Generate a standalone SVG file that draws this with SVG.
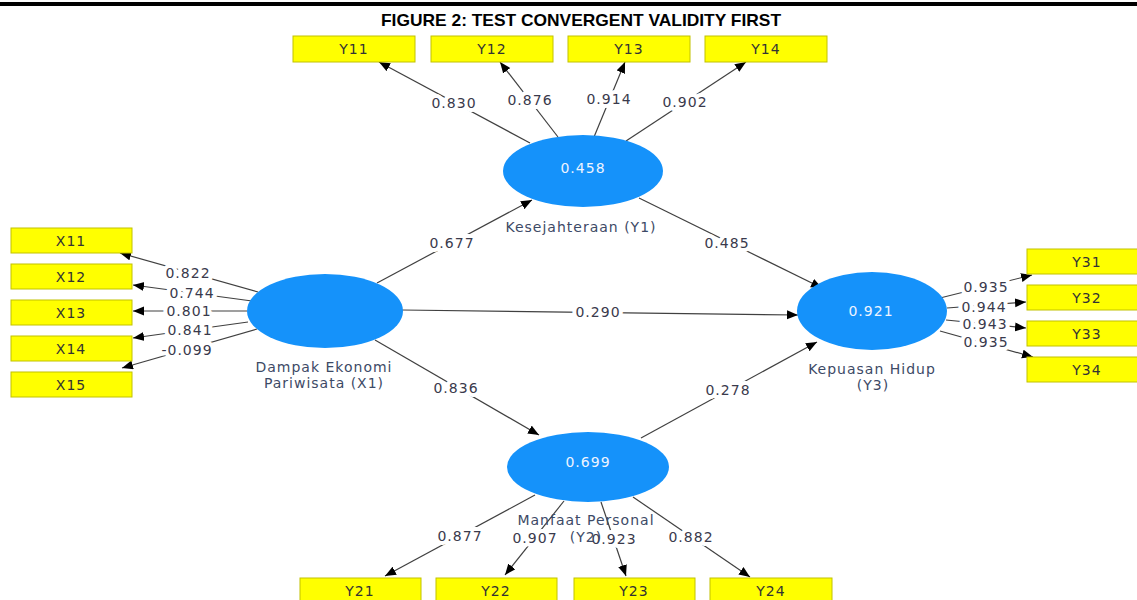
<svg xmlns="http://www.w3.org/2000/svg" width="1137" height="600" viewBox="0 0 1137 600">
<defs>
<marker id="ah" markerUnits="userSpaceOnUse" markerWidth="12" markerHeight="10" refX="11" refY="4.5" orient="auto">
<path d="M0,0 L11,4.5 L0,9 z" fill="#000"/>
</marker>
<style>
.ind rect{fill:#ffff00;stroke:#c2c200;stroke-width:1}
.ind text{font-family:"DejaVu Sans",sans-serif;font-size:14px;fill:#333;text-anchor:middle;letter-spacing:1px}
.lat ellipse{fill:#1592fa}
.lat .v{font-family:"DejaVu Sans",sans-serif;font-size:14px;fill:#eef4ff;text-anchor:middle;letter-spacing:1px}
.lat .n{font-family:"DejaVu Sans",sans-serif;font-size:14px;fill:#3d4a66;text-anchor:middle;letter-spacing:1px}
#connectors line{stroke:#404040;stroke-width:1.2;marker-end:url(#ah)}
.lbl{font-family:"DejaVu Sans",sans-serif;font-size:14px;fill:#3a3a4c;text-anchor:middle;letter-spacing:1px;stroke:#fff;stroke-width:8px;stroke-linejoin:round;paint-order:stroke}
.title{font-family:"Liberation Sans",Arial,sans-serif;font-weight:bold;font-size:17px;fill:#000}
</style>
</defs>
<rect width="1137" height="600" fill="#fff"/>
<rect x="0" y="2" width="1137" height="4" fill="#000"/>
<text class="title" x="381" y="26" textLength="400" lengthAdjust="spacingAndGlyphs">FIGURE 2: TEST CONVERGENT VALIDITY FIRST</text>

<g id="connectors">
<line x1="530" y1="143" x2="379" y2="62"/>
<line x1="558" y1="137" x2="500" y2="62"/>
<line x1="594" y1="137" x2="625" y2="62"/>
<line x1="626" y1="141" x2="746" y2="62"/>
<line x1="258" y1="292" x2="120" y2="253"/>
<line x1="252" y1="301" x2="133" y2="285"/>
<line x1="247" y1="311" x2="133" y2="311"/>
<line x1="248" y1="322" x2="133" y2="338"/>
<line x1="257" y1="329" x2="122" y2="368"/>
<line x1="377" y1="283" x2="532" y2="200"/>
<line x1="639" y1="198" x2="822" y2="288"/>
<line x1="402" y1="310" x2="798" y2="315"/>
<line x1="375" y1="340" x2="539" y2="435"/>
<line x1="641" y1="438" x2="817" y2="342"/>
<line x1="940" y1="298" x2="1032" y2="275"/>
<line x1="947" y1="308" x2="1026" y2="302"/>
<line x1="946" y1="320" x2="1026" y2="328"/>
<line x1="940" y1="331" x2="1033" y2="357"/>
<line x1="535" y1="495" x2="385" y2="576"/>
<line x1="564" y1="501" x2="505" y2="575"/>
<line x1="601" y1="502" x2="626" y2="576"/>
<line x1="633" y1="497" x2="750" y2="577"/>
<g id="connector-labels">
<text class="lbl" x="454" y="108">0.830</text>
<text class="lbl" x="530" y="105">0.876</text>
<text class="lbl" x="609" y="104">0.914</text>
<text class="lbl" x="685" y="107">0.902</text>
<text class="lbl" x="188" y="278">0.822</text>
<text class="lbl" x="192" y="298">0.744</text>
<text class="lbl" x="189" y="316">0.801</text>
<text class="lbl" x="190" y="335">0.841</text>
<text class="lbl" x="187" y="355">-0.099</text>
<text class="lbl" x="452" y="248">0.677</text>
<text class="lbl" x="727" y="248">0.485</text>
<text class="lbl" x="598" y="317">0.290</text>
<text class="lbl" x="456" y="393">0.836</text>
<text class="lbl" x="728" y="395">0.278</text>
<text class="lbl" x="986" y="292">0.935</text>
<text class="lbl" x="984" y="312">0.944</text>
<text class="lbl" x="985" y="329">0.943</text>
<text class="lbl" x="986" y="347">0.935</text>
<text class="lbl" x="460" y="541">0.877</text>
<text class="lbl" x="535" y="543">0.907</text>
<text class="lbl" x="614" y="544">0.923</text>
<text class="lbl" x="691" y="542">0.882</text>
</g>
</g>

<g id="Y11" class="ind"><rect x="293" y="36" width="122" height="26"/><text x="354" y="54">Y11</text></g>
<g id="Y12" class="ind"><rect x="431" y="36" width="122" height="26"/><text x="492" y="54">Y12</text></g>
<g id="Y13" class="ind"><rect x="568" y="36" width="122" height="26"/><text x="629" y="54">Y13</text></g>
<g id="Y14" class="ind"><rect x="705" y="36" width="122" height="26"/><text x="766" y="54">Y14</text></g>

<g id="X11" class="ind"><rect x="11" y="228" width="121" height="25"/><text x="71" y="246">X11</text></g>
<g id="X12" class="ind"><rect x="11" y="264" width="121" height="25"/><text x="71" y="282">X12</text></g>
<g id="X13" class="ind"><rect x="11" y="300" width="121" height="25"/><text x="71" y="318">X13</text></g>
<g id="X14" class="ind"><rect x="11" y="336" width="121" height="25"/><text x="71" y="354">X14</text></g>
<g id="X15" class="ind"><rect x="11" y="372" width="121" height="25"/><text x="71" y="390">X15</text></g>

<g id="Y31" class="ind"><rect x="1027" y="249" width="122" height="25"/><text x="1087" y="267">Y31</text></g>
<g id="Y32" class="ind"><rect x="1027" y="285" width="122" height="25"/><text x="1087" y="303">Y32</text></g>
<g id="Y33" class="ind"><rect x="1027" y="321" width="122" height="25"/><text x="1087" y="339">Y33</text></g>
<g id="Y34" class="ind"><rect x="1027" y="357" width="122" height="25"/><text x="1087" y="375">Y34</text></g>

<g id="Y21" class="ind"><rect x="300" y="578" width="121" height="25"/><text x="360" y="596">Y21</text></g>
<g id="Y22" class="ind"><rect x="436" y="578" width="121" height="25"/><text x="496" y="596">Y22</text></g>
<g id="Y23" class="ind"><rect x="574" y="578" width="121" height="25"/><text x="634" y="596">Y23</text></g>
<g id="Y24" class="ind"><rect x="710" y="578" width="122" height="25"/><text x="771" y="596">Y24</text></g>

<g id="X1" class="lat">
<ellipse cx="325" cy="311" rx="78" ry="37"/>
<text class="n" x="324" y="372">Dampak Ekonomi</text>
<text class="n" x="324" y="388">Pariwisata (X1)</text>
</g>
<g id="Y1" class="lat">
<ellipse cx="583" cy="171" rx="80" ry="36"/>
<text class="v" x="583" y="173">0.458</text>
<text class="n" x="581" y="232">Kesejahteraan (Y1)</text>
</g>
<g id="Y2" class="lat">
<ellipse cx="588" cy="467" rx="81" ry="35"/>
<text class="v" x="588" y="467">0.699</text>
<text class="n" x="586" y="525">Manfaat Personal</text>
<text class="n" x="586" y="542">(Y2)</text>
</g>
<g id="Y3" class="lat">
<ellipse cx="872" cy="311" rx="75" ry="39"/>
<text class="v" x="871" y="316">0.921</text>
<text class="n" x="872" y="374">Kepuasan Hidup</text>
<text class="n" x="873" y="390">(Y3)</text>
</g>
</svg>
